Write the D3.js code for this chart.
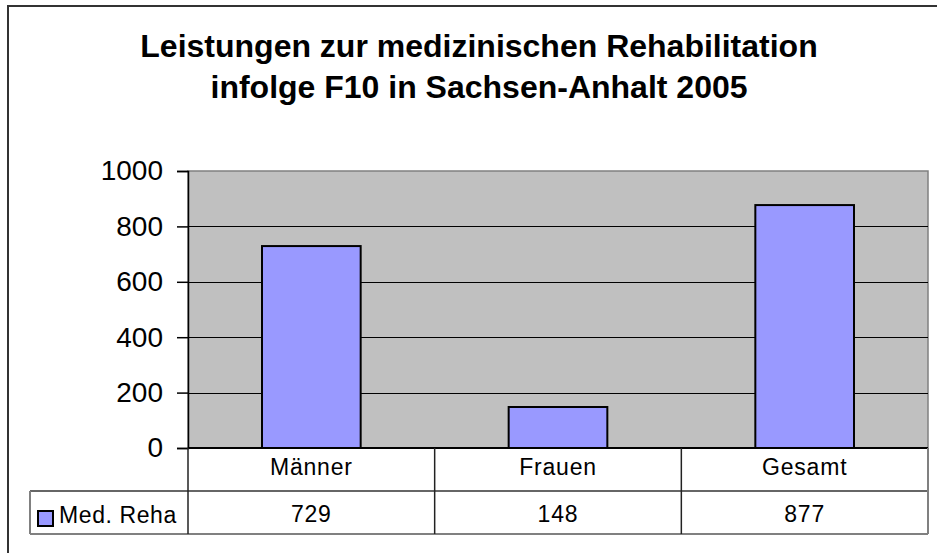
<!DOCTYPE html>
<html>
<head>
<meta charset="utf-8">
<script src="https://cdn.jsdelivr.net/npm/d3@7"></script>
<style>
  body { margin: 0; background: #fff; }
  svg { display: block; font-family: Arial, "Liberation Sans", sans-serif; }
</style>
</head>
<body>
<svg id="chart"></svg>
<script>
// data
const categories = ['Männer', 'Frauen', 'Gesamt'];
const values = [729, 148, 877];
const seriesName = 'Med. Reha';
const yTicks = [0, 200, 400, 600, 800, 1000];
const titleLines = ['Leistungen zur medizinischen Rehabilitation', 'infolge F10 in Sachsen-Anhalt 2005'];

const W = 937, H = 553;
const plot = { left: 188, right: 928, top: 171, bottom: 448 };
const rowH = 43;
const tableLeft = 30;

const svg = d3.select('#chart').attr('width', W).attr('height', H);

// chart area frame (only top and left are visible)
svg.append('rect').attr('x', 8).attr('y', 6).attr('width', W + 10).attr('height', H + 10)
    .attr('fill', '#fff').attr('stroke', '#333').attr('stroke-width', 2);

// title
svg.selectAll('.title').data(titleLines).enter()
    .append('text').attr('class', 'title')
    .attr('x', 479).attr('y', (d, i) => 57 + i * 41).attr('text-anchor', 'middle')
    .attr('font-size', 32).attr('font-weight', 'bold').text(d => d);

const x = d3.scaleBand().domain(categories).range([plot.left, plot.right]).padding(0);
const y = d3.scaleLinear().domain([0, 1000]).range([plot.bottom, plot.top]);
const barW = x.bandwidth() / 2.5;

// plot area
svg.append('rect').attr('x', plot.left).attr('y', plot.top)
    .attr('width', plot.right - plot.left).attr('height', plot.bottom - plot.top)
    .attr('fill', '#c0c0c0').attr('stroke', '#808080').attr('stroke-width', 1.5);

// gridlines
svg.selectAll('.grid').data(yTicks.filter(d => d > 0 && d < 1000)).enter()
    .append('line').attr('class', 'grid')
    .attr('x1', plot.left).attr('x2', plot.right)
    .attr('y1', d => Math.round(y(d)) + 0.5).attr('y2', d => Math.round(y(d)) + 0.5)
    .attr('stroke', '#000').attr('stroke-width', 1);

// bars
svg.selectAll('.bar').data(values).enter()
    .append('rect').attr('class', 'bar')
    .attr('x', (d, i) => x(categories[i]) + (x.bandwidth() - barW) / 2)
    .attr('y', d => y(d))
    .attr('width', barW)
    .attr('height', d => y(0) - y(d))
    .attr('fill', '#9999ff').attr('stroke', '#000').attr('stroke-width', 2);

// y axis
const yAxis = svg.append('g').attr('transform', `translate(${plot.left},0)`)
    .call(d3.axisLeft(y).tickValues(yTicks).tickFormat(d3.format('d')).tickSize(11).tickPadding(14));
yAxis.select('.domain').attr('stroke', '#000').attr('stroke-width', 1.5);
yAxis.selectAll('.tick line').attr('stroke', '#000').attr('stroke-width', 1.5);
yAxis.selectAll('.tick text').attr('font-size', 28).attr('fill', '#000')
    .attr('font-family', 'Arial, "Liberation Sans", sans-serif');

// data table
const tbl = svg.append('g');
tbl.append('line').attr('x1', plot.left).attr('x2', plot.right)
    .attr('y1', plot.bottom).attr('y2', plot.bottom).attr('stroke', '#000').attr('stroke-width', 2);
tbl.append('line').attr('x1', tableLeft).attr('x2', plot.right)
    .attr('y1', plot.bottom + rowH).attr('y2', plot.bottom + rowH).attr('stroke', '#333').attr('stroke-width', 1.5);
tbl.append('line').attr('x1', tableLeft).attr('x2', plot.right)
    .attr('y1', plot.bottom + 2 * rowH).attr('y2', plot.bottom + 2 * rowH).attr('stroke', '#808080').attr('stroke-width', 2);
tbl.append('line').attr('x1', tableLeft).attr('x2', tableLeft)
    .attr('y1', plot.bottom + rowH).attr('y2', plot.bottom + 2 * rowH).attr('stroke', '#808080').attr('stroke-width', 2);
tbl.append('line').attr('x1', plot.right).attr('x2', plot.right)
    .attr('y1', plot.bottom).attr('y2', plot.bottom + 2 * rowH).attr('stroke', '#808080').attr('stroke-width', 2);
tbl.selectAll('.vsep').data(categories).enter()
    .append('line').attr('class', 'vsep')
    .attr('x1', d => x(d)).attr('x2', d => x(d))
    .attr('y1', plot.bottom).attr('y2', plot.bottom + 2 * rowH)
    .attr('stroke', '#222').attr('stroke-width', 1.5);

tbl.selectAll('.cat').data(categories).enter()
    .append('text').attr('class', 'cat')
    .attr('x', d => x(d) + x.bandwidth() / 2).attr('y', plot.bottom + 27)
    .attr('text-anchor', 'middle').attr('font-size', 23).attr('letter-spacing', 0.8).text(d => d);
tbl.selectAll('.val').data(values).enter()
    .append('text').attr('class', 'val')
    .attr('x', (d, i) => x(categories[i]) + x.bandwidth() / 2).attr('y', plot.bottom + rowH + 31)
    .attr('text-anchor', 'middle').attr('font-size', 23).attr('letter-spacing', 0.8).text(d => d);

// legend key in table
tbl.append('rect').attr('x', 38).attr('y', 511).attr('width', 15).attr('height', 15)
    .attr('fill', '#9999ff').attr('stroke', '#000').attr('stroke-width', 2);
tbl.append('text').attr('x', 59).attr('y', 523).attr('font-size', 23).attr('letter-spacing', 0.6).text(seriesName);
</script>
</body>
</html>
